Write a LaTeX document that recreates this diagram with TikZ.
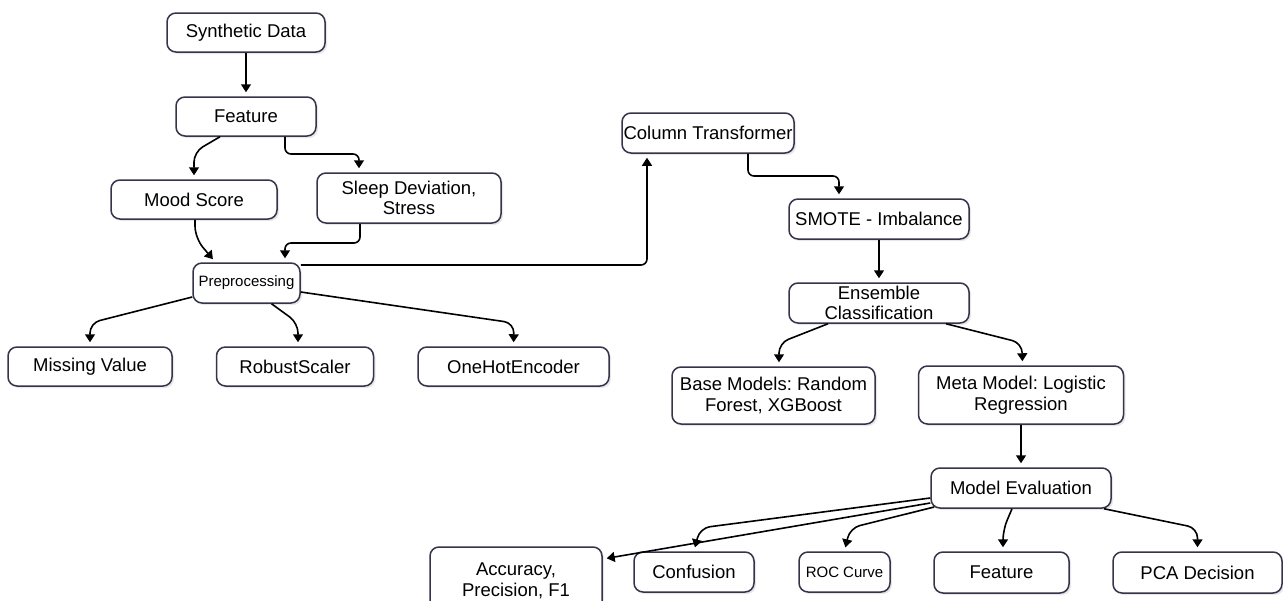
\documentclass[tikz,border=0pt]{standalone}
\usepackage{fontspec}
\setmainfont{Liberation Sans}
\usetikzlibrary{arrows.meta,shadows}
\definecolor{boxc}{HTML}{34344A}
\frenchspacing
\begin{document}
\begin{tikzpicture}[x=1pt,y=-1pt,
  box/.style={draw=boxc, line width=1.5pt, rounded corners=9pt, fill=white, align=center,
    inner sep=0pt, font=\fontsize{18.5}{20.5}\selectfont,
    drop shadow={shadow xshift=2pt, shadow yshift=-2pt, opacity=0.18, fill=gray}},
  smallbox/.style={box, font=\fontsize{15}{17}\selectfont},
  arr/.style={draw=black, line width=1.6pt, -{Triangle[length=8pt,width=10pt]}, shorten >=4pt, rounded corners=10pt}]
\useasboundingbox (0,0) rectangle (1283,600);
\fill[white] (0,0) rectangle (1283,600);
\clip (0,0) rectangle (1283,600);

% nodes
\node[box, minimum width=158pt, minimum height=39pt] (synth) at (246,32.5) {Synthetic Data};
\node[box, minimum width=140pt, minimum height=39pt] (feat) at (246,116.5) {Feature};
\node[box, minimum width=166pt, minimum height=39pt] (mood) at (194,199.5) {Mood Score};
\node[box, minimum width=184pt, minimum height=50pt] (sleep) at (409,198) {Sleep Deviation,\\Stress};
\node[smallbox, minimum width=107pt, minimum height=40pt] (prep) at (246.5,283) {Preprocessing};
\node[box, minimum width=164pt, minimum height=39pt] (miss) at (90,366.5) {Missing Value};
\node[box, minimum width=157pt, minimum height=39pt] (robust) at (295,366.5) {RobustScaler};
\node[box, minimum width=191pt, minimum height=39pt] (onehot) at (513.5,366.5) {OneHotEncoder};
\node[box, minimum width=172pt, minimum height=40pt] (coltr) at (708,133) {Column Transformer};
\node[box, minimum width=180pt, minimum height=40pt] (smote) at (879,219) {SMOTE - Imbalance};
\node[box, minimum width=180pt, minimum height=40pt] (ens) at (879,303) {Ensemble\\Classification};
\node[box, minimum width=203pt, minimum height=57pt] (base) at (773.5,395.5) {Base Models: Random\\Forest, XGBoost};
\node[box, minimum width=205pt, minimum height=58pt] (meta) at (1021,395) {Meta Model: Logistic\\Regression};
\node[box, minimum width=180pt, minimum height=40pt] (meval) at (1021,488) {Model Evaluation};
\node[box, minimum width=172pt, minimum height=68pt] (acc) at (516,581) {Accuracy,\\Precision, F1};
\node[box, minimum width=120pt, minimum height=40pt] (conf) at (694,572) {Confusion};
\node[smallbox, minimum width=91pt, minimum height=40pt] (roc) at (844.5,572) {ROC Curve};
\node[box, minimum width=135pt, minimum height=41pt] (featimp) at (1001.5,572.5) {Feature};
\node[box, minimum width=169pt, minimum height=41pt] (pca) at (1197.5,572.5) {PCA Decision};

% connectors
\draw[arr] (synth) -- (feat);
\draw[arr] ([xshift=-26pt]feat.south) -- (194,152) -- (mood.north);
\draw[arr, rounded corners=6pt] ([xshift=39pt]feat.south) -- (285,154) -- (359,154) -- ([xshift=-50pt]sleep.north);
\draw[arr, rounded corners=12pt] ([xshift=1pt]mood.south) -- (195,238) -- ([xshift=-31pt]prep.north);
\draw[arr, rounded corners=6pt] ([xshift=-49pt]sleep.south) -- (360,243) -- (285,243) -- ([xshift=38.5pt]prep.north);
\draw[arr, rounded corners=6pt] ([yshift=18pt]prep.east) -- (647,265) -- ([xshift=-61pt]coltr.south);
\draw[arr, rounded corners=6pt] ([xshift=40pt]coltr.south) -- (748,176) -- (839,176) -- ([xshift=-40pt]smote.north);
\draw[arr] (smote) -- (ens);
\draw[arr] ([xshift=-51pt]ens.south) -- (779,343) -- ([xshift=5.5pt]base.north);
\draw[arr] ([xshift=67pt]ens.south) -- (1022,343) -- ([xshift=1.5pt]meta.north);
\draw[arr] (meta) -- (meval);
\draw[arr] ([yshift=-14pt]prep.west) -- (90,323) -- (miss.north);
\draw[arr] ([xshift=25pt]prep.south) -- (298,323) -- ([xshift=3pt]robust.north);
\draw[arr] ([yshift=-9pt]prep.east) -- (514,323) -- (onehot.north);
\draw[arr] ([yshift=-10pt]meval.west) -- (700,528) -- (conf.north);
\draw[arr] ([yshift=-15pt]meval.west) -- ([yshift=22pt]acc.east);
\draw[arr] ([yshift=-19pt,xshift=4pt]meval.west) -- (850,528) -- (roc.north);
\draw[arr] ([xshift=-9pt]meval.south) -- (1003,530) -- ([xshift=1.5pt]featimp.north);
\draw[arr] ([xshift=83pt]meval.south) -- (1197.5,528) -- (pca.north);
\end{tikzpicture}
\end{document}
